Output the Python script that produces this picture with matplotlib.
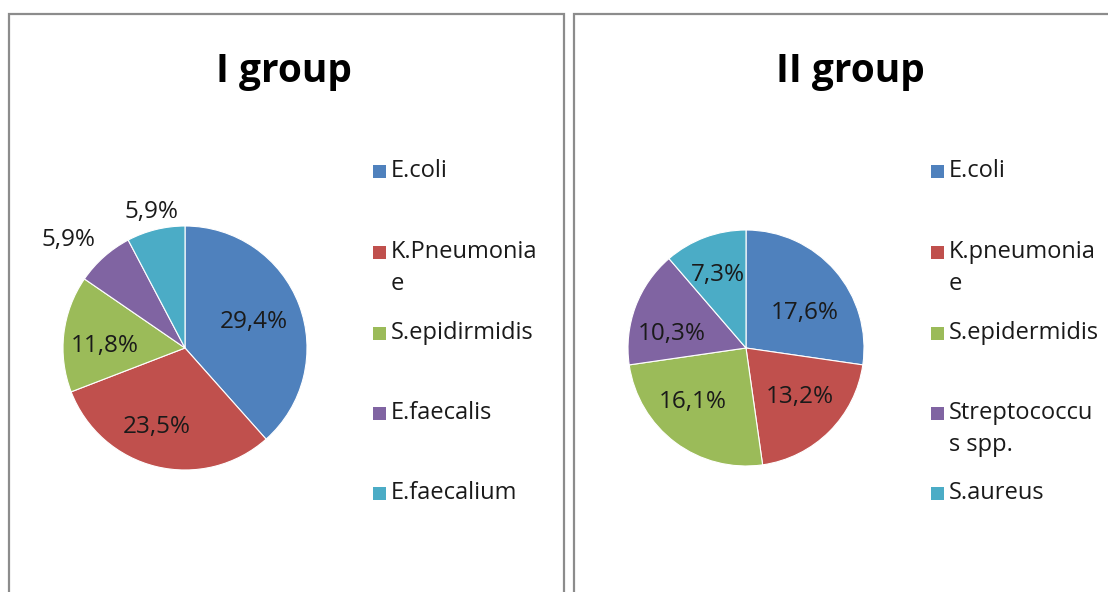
import numpy as np
import matplotlib
matplotlib.use("Agg")
import matplotlib.pyplot as plt
from matplotlib.patches import Rectangle

# ---------------- data ----------------
titles = ["I group", "II group"]

labels_1 = ["E.coli", "K.Pneumonia\ne", "S.epidirmidis", "E.faecalis", "E.faecalium"]
values_1 = [29.4, 23.5, 11.8, 5.9, 5.9]

labels_2 = ["E.coli", "K.pneumonia\ne", "S.epidermidis", "Streptococcu\ns spp.", "S.aureus"]
values_2 = [17.6, 13.2, 16.1, 10.3, 7.3]

colors = ["#4F81BD", "#C0504D", "#9BBB59", "#8064A2", "#4BACC6"]

# label placement styling (radial distance, angular tweak in degrees)
label_dist_1 = [0.60, 0.69, 0.66, 1.30, 1.15]
label_rot_1 = [0, -6, 5, 5.5, 0]
label_dist_2 = [0.58, 0.62, 0.64, 0.64, 0.66]
label_rot_2 = [-10, 3, -8, 10, 1]

# ---------------- figure ----------------
W, H = 1108, 592
DPI = 100
plt.rcParams['font.family'] = ['Open Sans', 'DejaVu Sans']
fig = plt.figure(figsize=(W / DPI, H / DPI), dpi=DPI)
fig.patch.set_facecolor("white")

TXT = "#1a1a1a"
FS_LEG = 17
FS_LAB = 17.5


def fx(px):
    return px / W


def fy(py):
    return 1 - py / H


# panel borders
for (x0, x1) in [(9, 564), (574, 1140)]:
    fig.add_artist(Rectangle((fx(x0), fy(610)), fx(x1 - x0), (610 - 14) / H,
                             transform=fig.transFigure, fill=False,
                             edgecolor="#8c8c8c", linewidth=1.6, clip_on=False))

panels = [
    dict(values=values_1, labels=labels_1, title=titles[0], cx=185, cy=348, r=122,
         dist=label_dist_1, rot=label_rot_1, title_x=284, sq_x=373, txt_x=391),
    dict(values=values_2, labels=labels_2, title=titles[1], cx=746, cy=348, r=118,
         dist=label_dist_2, rot=label_rot_2, title_x=850, sq_x=931, txt_x=949),
]

legend_y = [171, 252, 333, 413, 493]
SQ = 13

for p in panels:
    ax = fig.add_axes([fx(p["cx"] - p["r"]), fy(p["cy"] + p["r"]), fx(2 * p["r"]), 2 * p["r"] / H])
    wedges, _ = ax.pie(p["values"], colors=colors, startangle=90, counterclock=False,
                       radius=1.0, wedgeprops=dict(edgecolor="white", linewidth=0.8))
    ax.set_xlim(-1, 1)
    ax.set_ylim(-1, 1)
    ax.set_aspect("auto")
    ax.axis("off")
    for w, v, d, rot in zip(wedges, p["values"], p["dist"], p["rot"]):
        mid = np.deg2rad((w.theta1 + w.theta2) / 2 + rot)
        txt = f"{v:.1f}%".replace(".", ",")
        ax.text(d * np.cos(mid), d * np.sin(mid), txt, ha="center", va="center",
                fontsize=FS_LAB, color=TXT, clip_on=False)

    # title
    fig.text(fx(p["title_x"]), fy(82), p["title"], ha="center", va="baseline",
             fontsize=28, fontweight="bold", color="black")

    # legend
    for yc, lab, c in zip(legend_y, p["labels"], colors):
        fig.add_artist(Rectangle((fx(p["sq_x"]), fy(yc + SQ / 2)), fx(SQ), SQ / H,
                                 transform=fig.transFigure, facecolor=c, edgecolor="none"))
        lines = lab.split("\n")
        for k, line in enumerate(lines):
            fig.text(fx(p["txt_x"]), fy(yc + 32 * k), line, ha="left", va="center",
                     fontsize=FS_LEG, color=TXT)

fig.savefig("out.png", dpi=DPI, facecolor="white")
